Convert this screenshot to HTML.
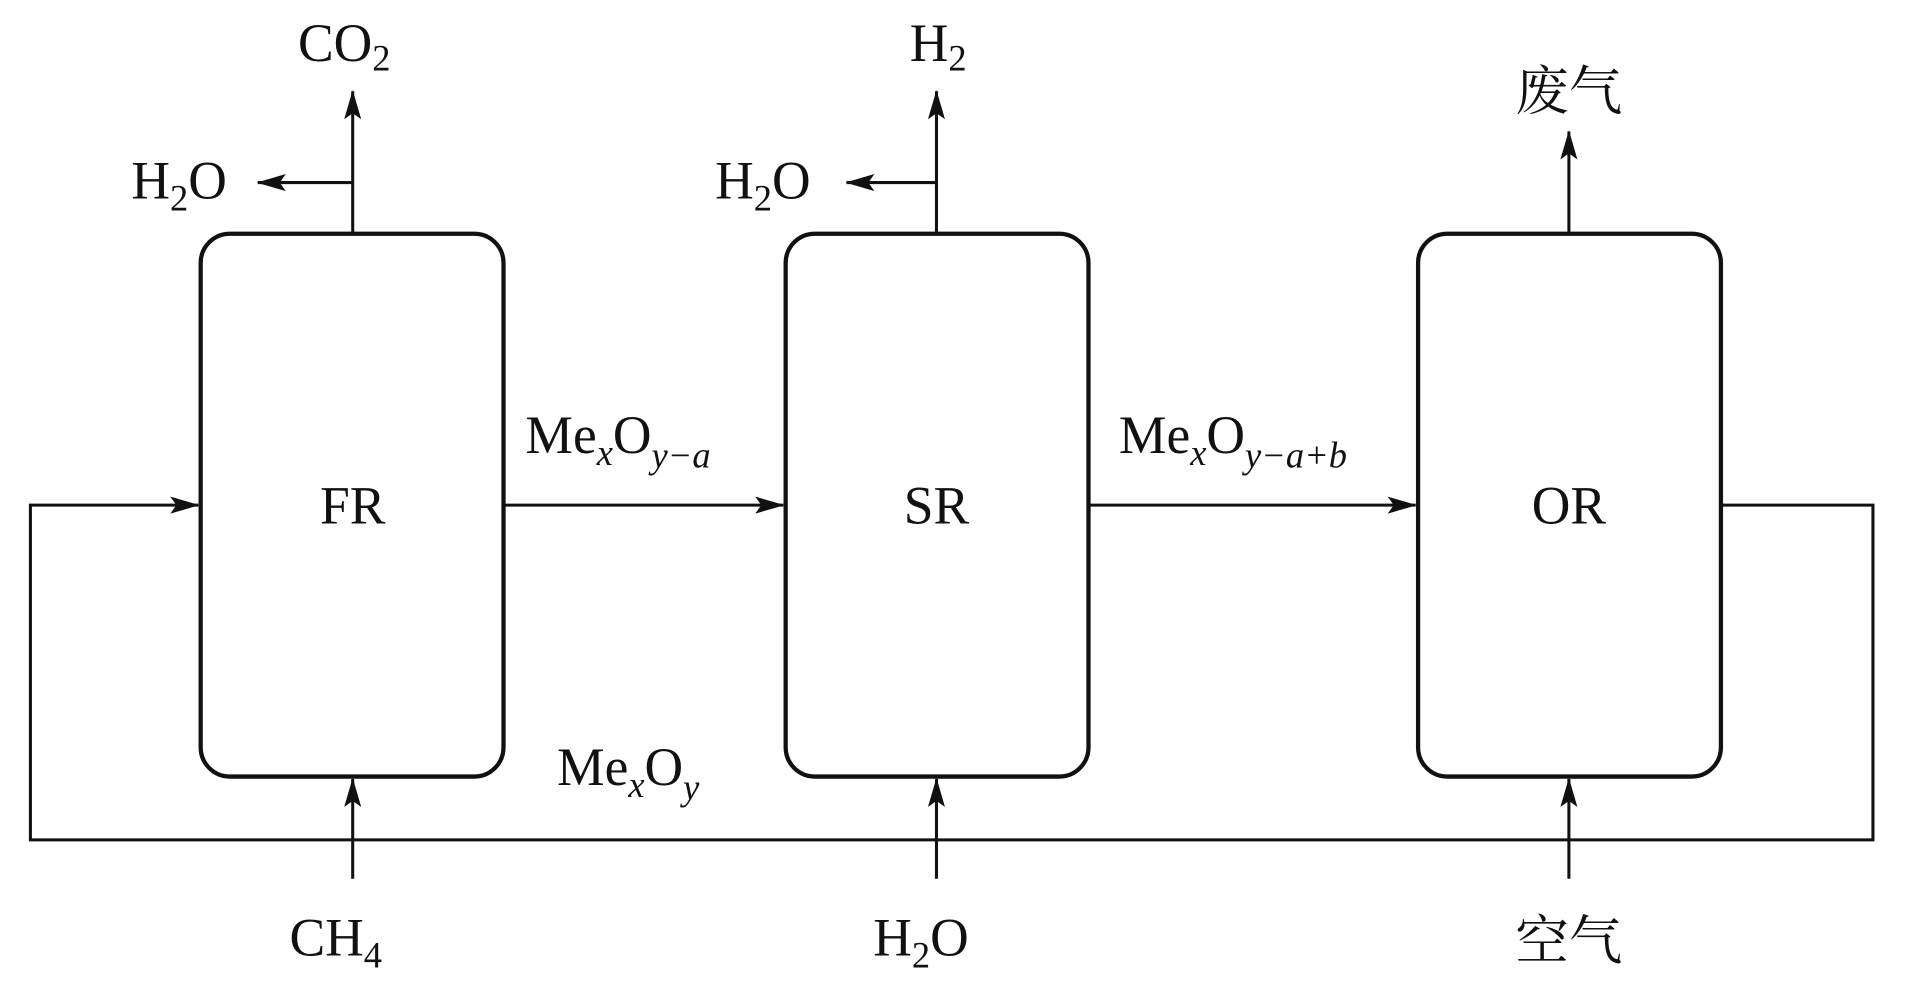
<!DOCTYPE html>
<html><head><meta charset="utf-8"><style>html,body{margin:0;padding:0;background:#fff}svg{display:block}</style></head>
<body>
<svg width="1907" height="992" viewBox="0 0 1568 815" preserveAspectRatio="none" xmlns="http://www.w3.org/2000/svg">
<defs><marker id="b" markerWidth="24" markerHeight="14" refX="23" refY="7" orient="auto" markerUnits="userSpaceOnUse"><path d="M0,0 L24,7 L0,14 L5,7 Z" fill="#111"/></marker></defs>
<g fill="none" stroke="#111" stroke-width="3.5">
<rect x="165" y="192" width="249" height="446" rx="24"/>
<rect x="646" y="192" width="249" height="446" rx="24"/>
<rect x="1166" y="192" width="249" height="446" rx="24"/>
</g>
<g fill="none" stroke="#111" stroke-width="2.5">
<line x1="414" y1="415" x2="644" y2="415" marker-end="url(#b)"/>
<line x1="895" y1="415" x2="1164" y2="415" marker-end="url(#b)"/>
<polyline points="1415,415 1540,415 1540,690 25,690 25,415 163,415" marker-end="url(#b)"/>
<line x1="290" y1="192" x2="290" y2="75" marker-end="url(#b)"/>
<line x1="290" y1="150" x2="212" y2="150" marker-end="url(#b)"/>
<line x1="770" y1="192" x2="770" y2="75" marker-end="url(#b)"/>
<line x1="770" y1="150" x2="696" y2="150" marker-end="url(#b)"/>
<line x1="1290" y1="192" x2="1290" y2="108" marker-end="url(#b)"/>
<line x1="290" y1="722" x2="290" y2="640" marker-end="url(#b)"/>
<line x1="770" y1="722" x2="770" y2="640" marker-end="url(#b)"/>
<line x1="1290" y1="722" x2="1290" y2="640" marker-end="url(#b)"/>
</g>
<g font-family="'Liberation Serif','Noto Serif CJK SC',serif" font-size="44" fill="#111">
<text x="290" y="430" text-anchor="middle">FR</text>
<text x="770" y="430" text-anchor="middle">SR</text>
<text x="1290" y="430" text-anchor="middle">OR</text>
<text x="245" y="50">CO<tspan font-size="30" dy="8">2</tspan></text>
<text x="108" y="163">H<tspan font-size="30" dy="10">2</tspan><tspan dy="-10">O</tspan></text>
<text x="588" y="163">H<tspan font-size="30" dy="10">2</tspan><tspan dy="-10">O</tspan></text>
<text x="748" y="50">H<tspan font-size="30" dy="8">2</tspan></text>
<text x="1290" y="90" text-anchor="middle">废气</text>
<text x="432" y="372">Me<tspan font-size="30" font-style="italic" dy="10">x</tspan><tspan dy="-10">O</tspan><tspan font-size="30" font-style="italic" dy="12">y−a</tspan></text>
<text x="920" y="372">Me<tspan font-size="30" font-style="italic" dy="10">x</tspan><tspan dy="-10">O</tspan><tspan font-size="30" font-style="italic" dy="12">y−a+b</tspan></text>
<text x="458" y="645">Me<tspan font-size="30" font-style="italic" dy="10">x</tspan><tspan dy="-10">O</tspan><tspan font-size="30" font-style="italic" dy="12">y</tspan></text>
<text x="238" y="785">CH<tspan font-size="30" dy="10">4</tspan></text>
<text x="718" y="785">H<tspan font-size="30" dy="10">2</tspan><tspan dy="-10">O</tspan></text>
<text x="1290" y="788" text-anchor="middle">空气</text>
</g>
</svg>
</body></html>
